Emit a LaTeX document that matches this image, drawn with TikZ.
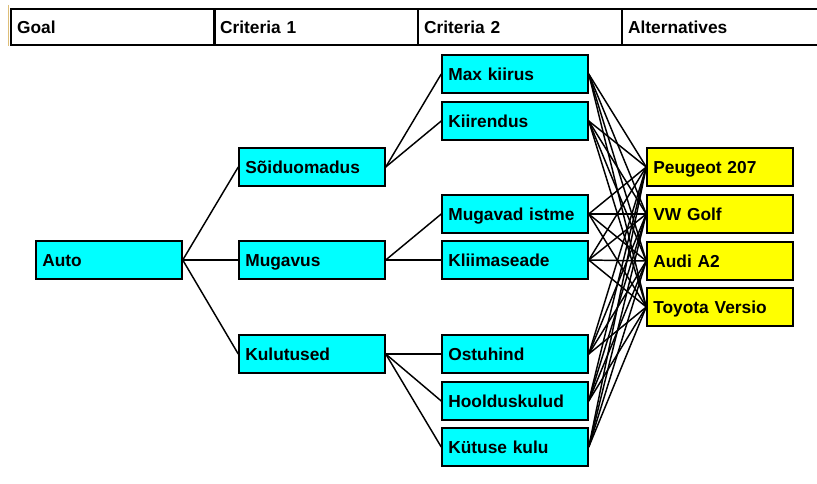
\documentclass[tikz,border=0pt]{standalone}
\usepackage{fontspec}
\setmainfont{Liberation Sans}
\usetikzlibrary{calc}
\definecolor{critcol}{RGB}{0,255,255}
\definecolor{altcol}{RGB}{255,255,0}
\definecolor{edgecol}{RGB}{222,190,120}
\tikzset{
  headcell/.style={draw=black, line width=1.6pt, anchor=north west, minimum width=153pt,
    minimum height=27pt, text width=144pt, inner xsep=4.5pt, align=left,
    text height=9.3pt, text depth=0pt,
    font=\bfseries\fontsize{13}{15}\selectfont},
  box/.style={draw=black, line width=1.6pt, minimum height=29pt, text width=100pt,
    inner xsep=4.5pt, align=left, text height=9.3pt, text depth=0pt,
    font=\bfseries\fontsize{13}{15}\selectfont},
  crit/.style={box, fill=critcol},
  alt/.style={box, fill=altcol},
  link/.style={line width=1.1pt}
}
\begin{document}
\begin{tikzpicture}[x=0.75pt, y=-0.75pt]
                \useasboundingbox[fill=white] (0,0) rectangle (817,484);

                % header row
                \draw[line width=1pt, edgecol] (8.5,5) -- (8.5,46);
                \node[headcell] (goal) at (10,8) {Goal};
                \node[headcell] (crita) at (213,8) {Criteria 1};
                \node[headcell] (critb) at (417,8) {Criteria 2};
                \node[headcell, minimum width=170pt, text width=161pt] (alts) at (621,8) {Alternatives};

                % goal
                \node[crit] (auto) at (109,260) {Auto};

                % criteria 1
                \node[crit] (soidu) at (312,167) {Sõiduomadus};
                \node[crit] (mugavus) at (312,260) {Mugavus};
                \node[crit] (kulu) at (312,354) {Kulutused};

                % criteria 2
                \node[crit] (maxk) at (515,74) {Max kiirus};
                \node[crit] (kiir) at (515,121) {Kiirendus};
                \node[crit] (istme) at (515,214) {Mugavad istme};
                \node[crit] (kliima) at (515,260) {Kliimaseade};
                \node[crit] (ostu) at (515,354) {Ostuhind};
                \node[crit] (hool) at (515,401) {Hoolduskulud};
                \node[crit] (kytus) at (515,447) {Kütuse kulu};

                % alternatives
                \node[alt] (peugeot) at (720,167) {Peugeot 207};
                \node[alt] (golf) at (720,214) {VW Golf};
                \node[alt] (audi) at (720,261) {Audi A2};
                \node[alt] (toyota) at (720,307) {Toyota Versio};

                % auto to criteria 1
                \draw[link] (auto.east) -- (soidu.west);
                \draw[link] (auto.east) -- (mugavus.west);
                \draw[link] (auto.east) -- (kulu.west);

                % soiduomadus to its criteria
                \draw[link] (soidu.east) -- (maxk.west);
                \draw[link] (soidu.east) -- (kiir.west);
                % mugavus to its criteria
                \draw[link] (mugavus.east) -- (istme.west);
                \draw[link] (mugavus.east) -- (kliima.west);
                % kulutused to its criteria
                \draw[link] (kulu.east) -- (ostu.west);
                \draw[link] (kulu.east) -- (hool.west);
                \draw[link] (kulu.east) -- (kytus.west);

                % every criterion to every alternative
                \foreach \c in {maxk, kiir, istme, kliima, ostu, hool, kytus}
                  \foreach \a in {peugeot, golf, audi, toyota}
                    \draw[link] (\c.east) -- (\a.west);
            \end{tikzpicture}
\end{document}
